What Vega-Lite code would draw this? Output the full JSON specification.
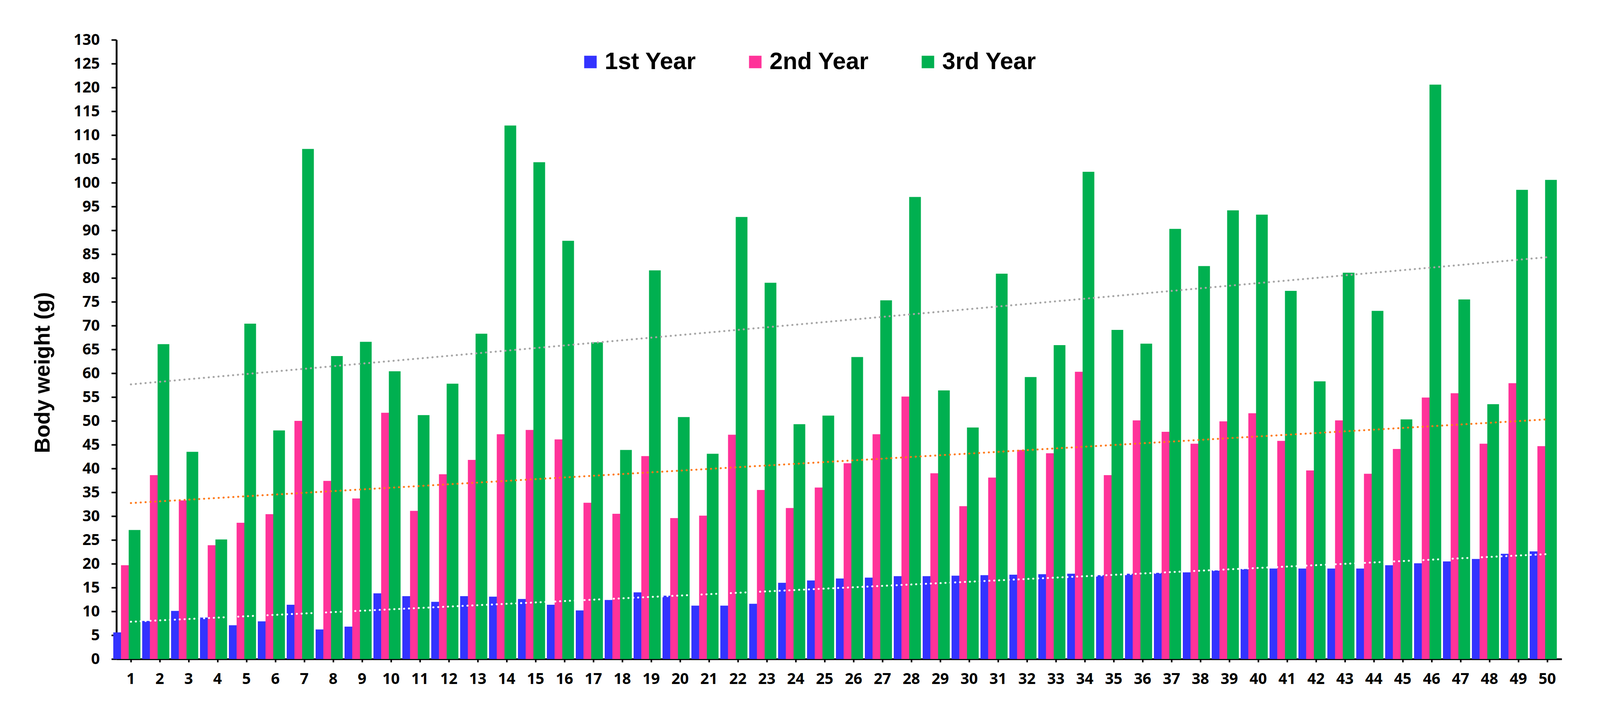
{
  "$schema": "https://vega.github.io/schema/vega-lite/v6.json",
  "width": 3700,
  "height": 1586,
  "autosize": {"type": "none"},
  "padding": {"left": 298, "top": 102, "right": 98, "bottom": 169},
  "background": "white",
  "config": {"view": {"stroke": null}},
  "data": {
    "values": [
      {"id": 1, "year": "1st Year", "weight": 5.6}, {"id": 1, "year": "2nd Year", "weight": 19.7}, {"id": 1, "year": "3rd Year", "weight": 27.1},
      {"id": 2, "year": "1st Year", "weight": 8.0}, {"id": 2, "year": "2nd Year", "weight": 38.6}, {"id": 2, "year": "3rd Year", "weight": 66.1},
      {"id": 3, "year": "1st Year", "weight": 10.1}, {"id": 3, "year": "2nd Year", "weight": 33.3}, {"id": 3, "year": "3rd Year", "weight": 43.5},
      {"id": 4, "year": "1st Year", "weight": 8.7}, {"id": 4, "year": "2nd Year", "weight": 23.9}, {"id": 4, "year": "3rd Year", "weight": 25.1},
      {"id": 5, "year": "1st Year", "weight": 7.1}, {"id": 5, "year": "2nd Year", "weight": 28.6}, {"id": 5, "year": "3rd Year", "weight": 70.4},
      {"id": 6, "year": "1st Year", "weight": 7.9}, {"id": 6, "year": "2nd Year", "weight": 30.4}, {"id": 6, "year": "3rd Year", "weight": 48.0},
      {"id": 7, "year": "1st Year", "weight": 11.4}, {"id": 7, "year": "2nd Year", "weight": 50.0}, {"id": 7, "year": "3rd Year", "weight": 107.1},
      {"id": 8, "year": "1st Year", "weight": 6.2}, {"id": 8, "year": "2nd Year", "weight": 37.4}, {"id": 8, "year": "3rd Year", "weight": 63.6},
      {"id": 9, "year": "1st Year", "weight": 6.8}, {"id": 9, "year": "2nd Year", "weight": 33.7}, {"id": 9, "year": "3rd Year", "weight": 66.6},
      {"id": 10, "year": "1st Year", "weight": 13.8}, {"id": 10, "year": "2nd Year", "weight": 51.7}, {"id": 10, "year": "3rd Year", "weight": 60.4},
      {"id": 11, "year": "1st Year", "weight": 13.2}, {"id": 11, "year": "2nd Year", "weight": 31.1}, {"id": 11, "year": "3rd Year", "weight": 51.2},
      {"id": 12, "year": "1st Year", "weight": 12.0}, {"id": 12, "year": "2nd Year", "weight": 38.8}, {"id": 12, "year": "3rd Year", "weight": 57.8},
      {"id": 13, "year": "1st Year", "weight": 13.2}, {"id": 13, "year": "2nd Year", "weight": 41.8}, {"id": 13, "year": "3rd Year", "weight": 68.3},
      {"id": 14, "year": "1st Year", "weight": 13.1}, {"id": 14, "year": "2nd Year", "weight": 47.2}, {"id": 14, "year": "3rd Year", "weight": 112.0},
      {"id": 15, "year": "1st Year", "weight": 12.6}, {"id": 15, "year": "2nd Year", "weight": 48.1}, {"id": 15, "year": "3rd Year", "weight": 104.3},
      {"id": 16, "year": "1st Year", "weight": 11.4}, {"id": 16, "year": "2nd Year", "weight": 46.1}, {"id": 16, "year": "3rd Year", "weight": 87.8},
      {"id": 17, "year": "1st Year", "weight": 10.2}, {"id": 17, "year": "2nd Year", "weight": 32.8}, {"id": 17, "year": "3rd Year", "weight": 66.5},
      {"id": 18, "year": "1st Year", "weight": 12.4}, {"id": 18, "year": "2nd Year", "weight": 30.5}, {"id": 18, "year": "3rd Year", "weight": 43.9},
      {"id": 19, "year": "1st Year", "weight": 14.0}, {"id": 19, "year": "2nd Year", "weight": 42.6}, {"id": 19, "year": "3rd Year", "weight": 81.6},
      {"id": 20, "year": "1st Year", "weight": 13.3}, {"id": 20, "year": "2nd Year", "weight": 29.6}, {"id": 20, "year": "3rd Year", "weight": 50.8},
      {"id": 21, "year": "1st Year", "weight": 11.2}, {"id": 21, "year": "2nd Year", "weight": 30.1}, {"id": 21, "year": "3rd Year", "weight": 43.1},
      {"id": 22, "year": "1st Year", "weight": 11.2}, {"id": 22, "year": "2nd Year", "weight": 47.1}, {"id": 22, "year": "3rd Year", "weight": 92.8},
      {"id": 23, "year": "1st Year", "weight": 11.6}, {"id": 23, "year": "2nd Year", "weight": 35.5}, {"id": 23, "year": "3rd Year", "weight": 79.0},
      {"id": 24, "year": "1st Year", "weight": 16.0}, {"id": 24, "year": "2nd Year", "weight": 31.7}, {"id": 24, "year": "3rd Year", "weight": 49.3},
      {"id": 25, "year": "1st Year", "weight": 16.5}, {"id": 25, "year": "2nd Year", "weight": 36.0}, {"id": 25, "year": "3rd Year", "weight": 51.1},
      {"id": 26, "year": "1st Year", "weight": 16.9}, {"id": 26, "year": "2nd Year", "weight": 41.1}, {"id": 26, "year": "3rd Year", "weight": 63.4},
      {"id": 27, "year": "1st Year", "weight": 17.1}, {"id": 27, "year": "2nd Year", "weight": 47.2}, {"id": 27, "year": "3rd Year", "weight": 75.3},
      {"id": 28, "year": "1st Year", "weight": 17.4}, {"id": 28, "year": "2nd Year", "weight": 55.1}, {"id": 28, "year": "3rd Year", "weight": 97.0},
      {"id": 29, "year": "1st Year", "weight": 17.4}, {"id": 29, "year": "2nd Year", "weight": 39.0}, {"id": 29, "year": "3rd Year", "weight": 56.4},
      {"id": 30, "year": "1st Year", "weight": 17.5}, {"id": 30, "year": "2nd Year", "weight": 32.1}, {"id": 30, "year": "3rd Year", "weight": 48.6},
      {"id": 31, "year": "1st Year", "weight": 17.6}, {"id": 31, "year": "2nd Year", "weight": 38.1}, {"id": 31, "year": "3rd Year", "weight": 80.9},
      {"id": 32, "year": "1st Year", "weight": 17.7}, {"id": 32, "year": "2nd Year", "weight": 43.9}, {"id": 32, "year": "3rd Year", "weight": 59.2},
      {"id": 33, "year": "1st Year", "weight": 17.8}, {"id": 33, "year": "2nd Year", "weight": 43.2}, {"id": 33, "year": "3rd Year", "weight": 65.9},
      {"id": 34, "year": "1st Year", "weight": 17.9}, {"id": 34, "year": "2nd Year", "weight": 60.3}, {"id": 34, "year": "3rd Year", "weight": 102.3},
      {"id": 35, "year": "1st Year", "weight": 17.6}, {"id": 35, "year": "2nd Year", "weight": 38.6}, {"id": 35, "year": "3rd Year", "weight": 69.1},
      {"id": 36, "year": "1st Year", "weight": 17.9}, {"id": 36, "year": "2nd Year", "weight": 50.1}, {"id": 36, "year": "3rd Year", "weight": 66.2},
      {"id": 37, "year": "1st Year", "weight": 18.1}, {"id": 37, "year": "2nd Year", "weight": 47.7}, {"id": 37, "year": "3rd Year", "weight": 90.3},
      {"id": 38, "year": "1st Year", "weight": 18.2}, {"id": 38, "year": "2nd Year", "weight": 45.2}, {"id": 38, "year": "3rd Year", "weight": 82.5},
      {"id": 39, "year": "1st Year", "weight": 18.6}, {"id": 39, "year": "2nd Year", "weight": 49.9}, {"id": 39, "year": "3rd Year", "weight": 94.2},
      {"id": 40, "year": "1st Year", "weight": 18.9}, {"id": 40, "year": "2nd Year", "weight": 51.6}, {"id": 40, "year": "3rd Year", "weight": 93.3},
      {"id": 41, "year": "1st Year", "weight": 19.0}, {"id": 41, "year": "2nd Year", "weight": 45.8}, {"id": 41, "year": "3rd Year", "weight": 77.3},
      {"id": 42, "year": "1st Year", "weight": 19.0}, {"id": 42, "year": "2nd Year", "weight": 39.6}, {"id": 42, "year": "3rd Year", "weight": 58.3},
      {"id": 43, "year": "1st Year", "weight": 19.0}, {"id": 43, "year": "2nd Year", "weight": 50.1}, {"id": 43, "year": "3rd Year", "weight": 81.1},
      {"id": 44, "year": "1st Year", "weight": 19.0}, {"id": 44, "year": "2nd Year", "weight": 38.9}, {"id": 44, "year": "3rd Year", "weight": 73.1},
      {"id": 45, "year": "1st Year", "weight": 19.7}, {"id": 45, "year": "2nd Year", "weight": 44.1}, {"id": 45, "year": "3rd Year", "weight": 50.3},
      {"id": 46, "year": "1st Year", "weight": 20.1}, {"id": 46, "year": "2nd Year", "weight": 54.9}, {"id": 46, "year": "3rd Year", "weight": 120.6},
      {"id": 47, "year": "1st Year", "weight": 20.5}, {"id": 47, "year": "2nd Year", "weight": 55.8}, {"id": 47, "year": "3rd Year", "weight": 75.5},
      {"id": 48, "year": "1st Year", "weight": 21.0}, {"id": 48, "year": "2nd Year", "weight": 45.2}, {"id": 48, "year": "3rd Year", "weight": 53.5},
      {"id": 49, "year": "1st Year", "weight": 22.1}, {"id": 49, "year": "2nd Year", "weight": 57.9}, {"id": 49, "year": "3rd Year", "weight": 98.5},
      {"id": 50, "year": "1st Year", "weight": 22.6}, {"id": 50, "year": "2nd Year", "weight": 44.7}, {"id": 50, "year": "3rd Year", "weight": 100.6}
    ]
  },
  "layer": [
    {
      "mark": {"type": "bar", "width": {"band": 1.52}},
      "encoding": {
        "x": {
          "field": "id",
          "type": "ordinal",
          "scale": {"paddingInner": 0.2, "paddingOuter": 0.1},
          "axis": {
            "title": null,
            "labelAngle": 0,
            "labelFont": "Open Sans",
            "labelFontWeight": "bold",
            "labelFontSize": 39,
            "labelColor": "black",
            "labelPadding": 24,
            "domainColor": "black",
            "domainWidth": 4.7,
            "tickColor": "black",
            "tickWidth": 4,
            "tickSize": 8
          }
        },
        "xOffset": {
          "field": "year",
          "type": "nominal",
          "scale": {"paddingInner": 0, "paddingOuter": 0}
        },
        "y": {
          "field": "weight",
          "type": "quantitative",
          "stack": null,
          "scale": {"domain": [0, 130], "nice": false},
          "axis": {
            "title": "Body weight (g)",
            "values": [0, 5, 10, 15, 20, 25, 30, 35, 40, 45, 50, 55, 60, 65, 70, 75, 80, 85, 90, 95, 100, 105, 110, 115, 120, 125, 130],
            "grid": false,
            "labelFont": "Open Sans",
            "labelFontWeight": "bold",
            "labelFontSize": 39,
            "labelColor": "black",
            "labelPadding": 30,
            "domainColor": "black",
            "domainWidth": 4.7,
            "tickColor": "black",
            "tickWidth": 4,
            "tickSize": 13,
            "titleFont": "Liberation Sans",
            "titleFontWeight": "bold",
            "titleFontSize": 55,
            "titleColor": "black",
            "titleAngle": -90,
            "titleAlign": "center",
            "titleBaseline": "middle",
            "titleX": -189,
            "titleY": 852
          }
        },
        "color": {
          "field": "year",
          "type": "nominal",
          "scale": {"domain": ["1st Year", "2nd Year", "3rd Year"], "range": ["#3333FF", "#FF3399", "#00B050"]},
          "legend": {
            "title": null,
            "orient": "none",
            "direction": "horizontal",
            "legendX": 1183,
            "legendY": 26,
            "padding": 0,
            "symbolType": "square",
            "symbolSize": 1024,
            "symbolStrokeWidth": 0,
            "symbolOpacity": 1,
            "labelFont": "Liberation Sans",
            "labelFontWeight": "bold",
            "labelFontSize": 61,
            "labelColor": "black",
            "labelOffset": 6,
            "columnPadding": 120,
            "labelLimit": 600
          }
        }
      }
    },
    {
      "transform": [{"regression": "weight", "on": "id", "groupby": ["year"]}],
      "mark": {"type": "line", "strokeWidth": 5, "strokeDash": [0.5, 12], "strokeCap": "round"},
      "encoding": {
        "x": {"field": "id", "type": "quantitative", "scale": {"domain": [0.5, 50.5], "nice": false, "zero": false}, "axis": null},
        "y": {"field": "weight", "type": "quantitative"},
        "color": {
          "field": "year",
          "type": "nominal",
          "scale": {"domain": ["1st Year", "2nd Year", "3rd Year"], "range": ["#FFFFFF", "#FF7A1A", "#A6A6A6"]},
          "legend": null
        }
      }
    }
  ],
  "resolve": {"scale": {"x": "independent", "color": "independent"}}
}
